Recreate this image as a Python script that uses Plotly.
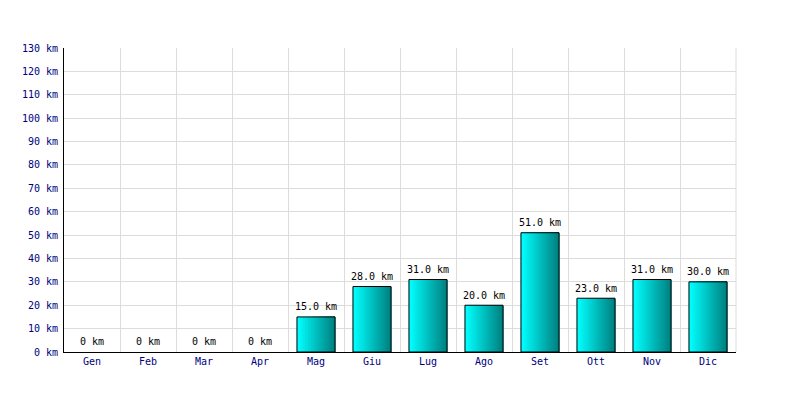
import plotly.graph_objects as go

months = ["Gen", "Feb", "Mar", "Apr", "Mag", "Giu", "Lug", "Ago", "Set", "Ott", "Nov", "Dic"]
km = [0, 0, 0, 0, 15.0, 28.0, 31.0, 20.0, 51.0, 23.0, 31.0, 30.0]
labels = ["0 km" if v == 0 else f"{v:.1f} km" for v in km]
bar_y = [v if v else None for v in km]

FONT = "DejaVu Sans Mono"
NAVY = "#000080"
BAR_W = 0.68
N = 24

fig = go.Figure()
c0 = (0, 255, 255)
c1 = (0, 128, 128)
for i in range(N):
    t = i / (N - 1)
    col = "rgb({},{},{})".format(*[round(a + (b - a) * t) for a, b in zip(c0, c1)])
    fig.add_trace(go.Bar(
        x=months, y=bar_y,
        width=BAR_W - i * BAR_W / N,
        offset=-BAR_W / 2 + i * BAR_W / N,
        marker=dict(color=col, line=dict(width=0)),
        hoverinfo="skip", showlegend=False,
    ))

fig.add_trace(go.Bar(
    x=months, y=bar_y, width=BAR_W, offset=-BAR_W / 2,
    marker=dict(color="rgba(0,0,0,0)", line=dict(color="black", width=1)),
    showlegend=False,
))

fig.add_trace(go.Scatter(
    x=months, y=km, mode="markers+text", text=labels, textposition="top center",
    marker=dict(size=5, color="rgba(0,0,0,0)"),
    textfont=dict(family=FONT, size=10, color="black"),
    cliponaxis=False, showlegend=False, hoverinfo="skip",
))

# page body adds an 8px offset; compensate in margins
fig.update_layout(
    width=800, height=400,
    margin=dict(l=56, r=72, t=40, b=56),
    paper_bgcolor="white", plot_bgcolor="white",
    barmode="overlay",
    font=dict(family=FONT, size=10, color=NAVY),
    xaxis=dict(
        type="category", tickson="boundaries", showgrid=True, gridcolor="#dcdcdc", gridwidth=1,
        showline=True, linecolor="black", linewidth=1, ticks="", ticklen=0,
        tickfont=dict(family=FONT, size=10, color=NAVY), range=[-0.5, 11.5],
        automargin=False,
    ),
    yaxis=dict(
        range=[0, 130], dtick=10, tick0=0, ticksuffix=" km",
        showgrid=True, gridcolor="#dcdcdc", gridwidth=1, zeroline=False,
        showline=True, linecolor="black", linewidth=1, ticks="",
        ticklabelstandoff=3,
        tickfont=dict(family=FONT, size=10, color=NAVY), automargin=False,
    ),
    shapes=[dict(type="line", xref="paper", yref="paper", x0=1, x1=1, y0=0, y1=1,
                 line=dict(color="#dcdcdc", width=1), layer="below")],
)

fig.write_html("out.html")
